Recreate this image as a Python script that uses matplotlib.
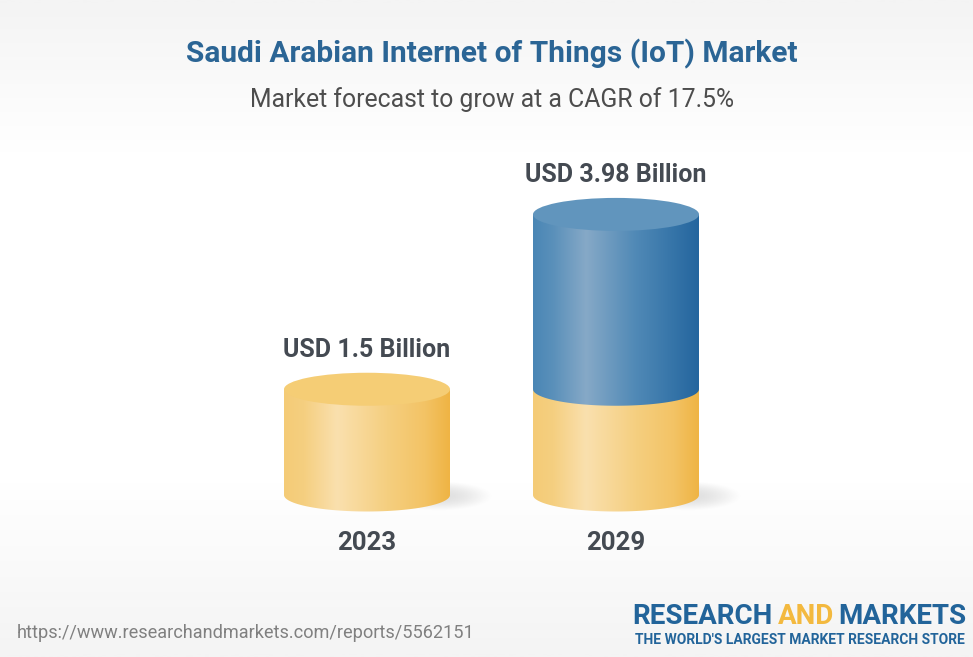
import numpy as np
import matplotlib
matplotlib.use('Agg')
import matplotlib.pyplot as plt
from matplotlib import colors
from matplotlib.patches import Ellipse, PathPatch
from matplotlib.path import Path

plt.rcParams['font.family'] = ['Roboto', 'DejaVu Sans']

years = ['2023', '2029']
start_values = [1.5, 1.5]
end_values = [1.5, 3.98]
value_labels = ['USD 1.5 Billion', 'USD 3.98 Billion']

W, H = 973, 657
PX_X = 249.0     # pixels per category
PX_Y = 70.5      # pixels per billion
X0, Y0 = 367, 495
half_w = 83 / PX_X
ell_h = 33 / PX_Y

yellow = colors.LinearSegmentedColormap.from_list('yellow', [
    (0, '#f4cb76'), (0.12, '#f5cf80'), (0.32, '#fae0ae'), (0.62, '#f5cf80'),
    (0.85, '#f3c365'), (1, '#efb444')])
blue = colors.LinearSegmentedColormap.from_list('blue', [
    (0, '#4a86b5'), (0.12, '#5a90ba'), (0.32, '#86a9c7'), (0.62, '#5089b6'),
    (0.85, '#3574a8'), (1, '#24659e')])
backdrop = colors.LinearSegmentedColormap.from_list('backdrop', [
    (0, '#f4f4f4'), (0.23, '#ffffff'), (0.74, '#ffffff'), (1, '#f4f4f4')])

fig = plt.figure(figsize=(W / 100, H / 100), dpi=100)
ax = fig.add_axes([0, 0, 1, 1])
ylim = (-(H - Y0) / PX_Y, Y0 / PX_Y)
xlim = (-X0 / PX_X, (W - X0) / PX_X)
ax.axis('off')

ax.imshow(np.linspace(0, 1, 300).reshape(-1, 1), cmap=backdrop, aspect='auto',
          extent=(*xlim, ylim[0], ylim[1]), origin='upper', vmin=0, vmax=1, zorder=0)


def shadow(x, bottom):
    # soft grey blob right of the base
    xx, yy = np.meshgrid(np.linspace(-1, 1, 120), np.linspace(-1, 1, 60))
    a = np.clip(1 - (xx ** 2 + yy ** 2), 0, 1) ** 1.3 * 0.3
    img = np.zeros((60, 120, 4))
    img[..., :3] = 0.6
    img[..., 3] = a
    ax.imshow(img, aspect='auto', zorder=1,
              extent=(x + half_w - 0.26, x + half_w + 0.17,
                      bottom - 16 / PX_Y, bottom + 14 / PX_Y))


def cylinder_part(x, low, high, cmap, z):
    t = np.linspace(np.pi, 2 * np.pi, 60)
    bx = x + half_w * np.cos(t)
    by = low + ell_h / 2 * np.sin(t)
    verts = [(x - half_w, high)] + list(zip(bx, by)) + [(x + half_w, high), (x - half_w, high)]
    codes = [Path.MOVETO] + [Path.LINETO] * (len(verts) - 2) + [Path.CLOSEPOLY]
    clip = PathPatch(Path(verts, codes), transform=ax.transData, fc='none', ec='none')
    ax.add_patch(clip)
    im = ax.imshow(np.linspace(0, 1, 256).reshape(1, -1), cmap=cmap, aspect='auto',
                   extent=(x - half_w, x + half_w, low - ell_h, high), zorder=z)
    im.set_clip_path(clip)


for i, (start, end) in enumerate(zip(start_values, end_values)):
    shadow(i, 0)
    cylinder_part(i, 0, start, yellow, 2)
    top_colour = '#f5cd75'
    if end > start:
        cylinder_part(i, start, end, blue, 3)
        top_colour = '#6195bd'
    ax.add_patch(Ellipse((i, end), 2 * half_w, ell_h, fc=top_colour, ec='none', zorder=4))
    ax.text(i, end + 39.5 / PX_Y, value_labels[i], ha='center', va='center', fontsize=18,
            fontweight='bold', color='#444a52', zorder=5)
    ax.text(i, -48 / PX_Y, years[i], ha='center', va='center', fontsize=18.5,
            fontweight='bold', color='#444a52', zorder=5)

ax.set_xlim(*xlim)
ax.set_ylim(*ylim)

# header and footer sit in figure pixels
fig.text(492 / W, 1 - 54 / H, 'Saudi Arabian Internet of Things (IoT) Market', ha='center',
         va='center', fontsize=21.5, fontweight='bold', color='#2b6595')
fig.text(492 / W, 1 - 100 / H, 'Market forecast to grow at a CAGR of 17.5%', ha='center',
         va='center', fontsize=17.85, color='#4d4d4d')
fig.text(17 / W, 1 - 632.5 / H, 'https://www.researchandmarkets.com/reports/5562151', ha='left',
         va='center', fontsize=13.1, color='#808080')
fig.text(632 / W, 1 - 617 / H, 'RESEARCH', ha='left', va='center', fontsize=20,
         fontweight='bold', color='#22649a')
fig.text(778 / W, 1 - 617 / H, 'AND', ha='left', va='center', fontsize=20,
         fontweight='bold', color='#f3b93f')
fig.text(966 / W, 1 - 617 / H, 'MARKETS', ha='right', va='center', fontsize=20,
         fontweight='bold', color='#22649a')
fig.text(965 / W, 1 - 640 / H, "THE WORLD'S LARGEST MARKET RESEARCH STORE", ha='right',
         va='center', fontsize=10, fontweight='bold', color='#22649a')

fig.savefig('out.png', dpi=100)
